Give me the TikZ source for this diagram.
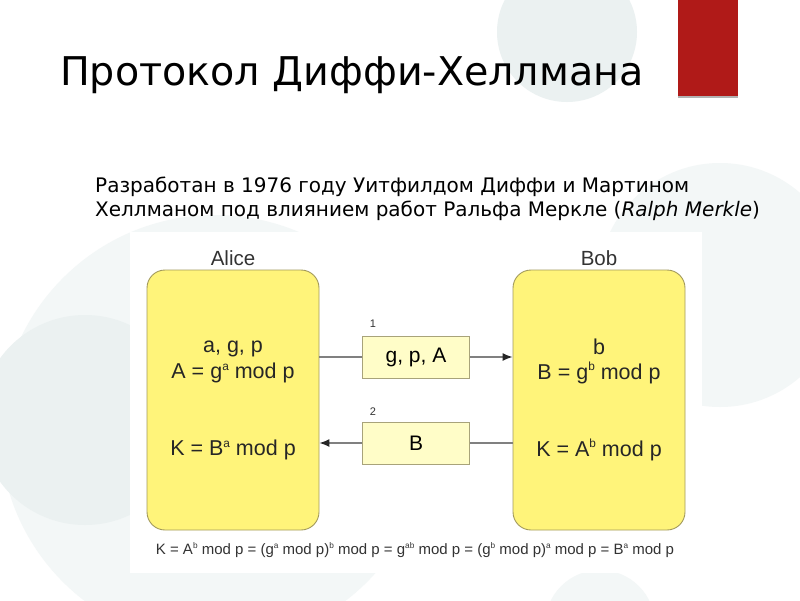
\documentclass[tikz,border=0pt]{standalone}
\usepackage{fontspec}
\setmainfont{DejaVu Sans}
\newfontfamily\arialf{Liberation Sans}
\usetikzlibrary{arrows.meta}
\definecolor{bigyellow}{HTML}{FFF47A}
\definecolor{boxborder}{HTML}{A39A5C}
\definecolor{msgfill}{HTML}{FFFDC8}
\definecolor{msgborder}{HTML}{A8A37A}
\definecolor{linegrey}{HTML}{808080}
\definecolor{slidered}{HTML}{B01A18}
\definecolor{circA}{HTML}{F3F7F7}
\definecolor{circB}{HTML}{EBF1F1}
\newcommand{\sps}[1]{\raisebox{0.75ex}{\scalebox{0.55}{#1}}}
\tikzset{
  party/.style={draw=boxborder, fill=bigyellow, line width=0.9pt, rounded corners=18pt,
    minimum width=172pt, minimum height=260pt, inner sep=0pt},
  msgbox/.style={draw=msgborder, fill=msgfill, line width=0.8pt,
    minimum width=107pt, minimum height=42pt, inner sep=0pt,
    font=\arialf\fontsize{21}{24}\selectfont},
  diagtext/.style={font=\arialf\fontsize{21.5}{24}\selectfont, text=black!85, inner sep=0pt},
  partylabel/.style={font=\arialf\fontsize{20.5}{24}\selectfont, text=black!80, inner sep=0pt},
  numlabel/.style={font=\arialf\fontsize{11}{13}\selectfont, text=black!80, inner sep=0pt},
  msgline/.style={draw=linegrey, line width=1.4pt},
  msgarrow/.style={msgline, -{Latex[length=10pt,width=8pt,color=black!85]}},
}
\begin{document}
\begin{tikzpicture}[x=1pt, y=-1pt]
\useasboundingbox (0,0) rectangle (800,600);
\fill[white] (0,0) rectangle (800,600);
% background circles
\fill[circA] (215,430) circle (215);
\fill[circB] (85,420) circle (105);
\fill[circB] (567,32) circle (70);
\fill[circA] (720,285) circle (122);
\fill[circA] (600,625) circle (55);
% red bar
\fill[black!30] (678,0) rectangle (738,98);
\fill[slidered] (678,0) rectangle (738,96);
% title
\node[anchor=base west, inner sep=0pt, font=\fontsize{39.6}{45}\selectfont] (title) at (60,85) {Протокол Диффи-Хеллмана};
\node[anchor=base west, inner sep=0pt, font=\fontsize{20}{24}\selectfont] (sub1) at (95,192) {Разработан в 1976 году Уитфилдом Диффи и Мартином};
\node[anchor=base west, inner sep=0pt, font=\fontsize{20}{24}\selectfont] (sub2) at (95,216) {Хеллманом под влиянием работ Ральфа Меркле (\textit{Ralph Merkle})};
% diagram backdrop
\fill[white] (130,232) rectangle (702,573);
% parties
\node[party] (alice) at (233,400) {};
\node[party] (bob) at (599,400) {};
\node[partylabel] (alicel) at (233,258) {Alice};
\node[partylabel] (bobl) at (599,258) {Bob};
\node[diagtext] (a1) at (233,349) {a, g, p};
\node[diagtext] (a2) at (233,373) {A = g\sps{a} mod p};
\node[diagtext] (a3) at (233,450) {K = B\sps{a} mod p};
\node[diagtext] (b1) at (599,347) {b};
\node[diagtext] (b2) at (599,373) {B = g\sps{b} mod p};
\node[diagtext] (b3) at (599,450) {K = A\sps{b} mod p};
% messages
\node[msgbox] (m1) at (416,357) {g, p, A};
\node[msgbox] (m2) at (416,443) {B};
\node[numlabel] (n1) at (373,324) {1};
\node[numlabel] (n2) at (373,412) {2};
\draw[msgline] (alice.east |- m1.west) -- (m1.west);
\draw[msgarrow] (m1.east) -- (bob.west |- m1.east);
\draw[msgline] (bob.west |- m2.east) -- (m2.east);
\draw[msgarrow] (m2.west) -- (alice.east |- m2.west);
% formula
\node[inner sep=0pt, text=black!80, font=\arialf\fontsize{15}{17}\selectfont] (formula) at (415,550)
  {K = A\sps{b} mod p = (g\sps{a} mod p)\sps{b} mod p = g\sps{ab} mod p = (g\sps{b} mod p)\sps{a} mod p = B\sps{a} mod p};
\end{tikzpicture}
\end{document}
